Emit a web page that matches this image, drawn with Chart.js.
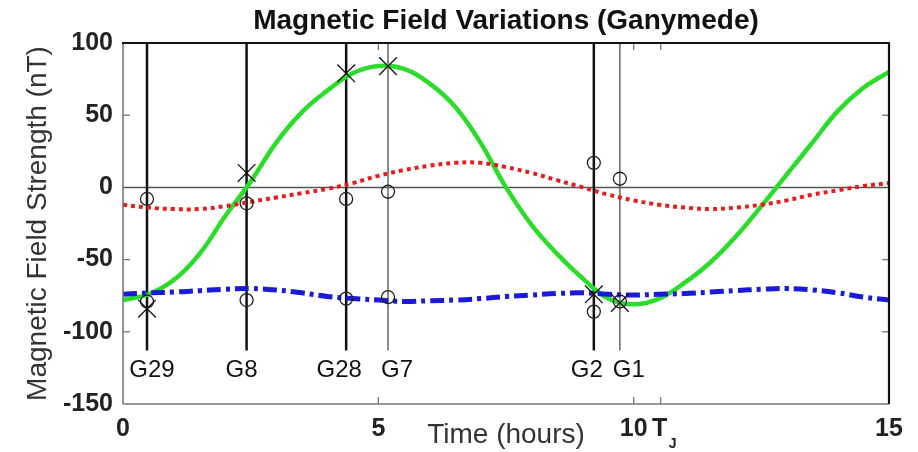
<!DOCTYPE html>
<html>
<head>
<meta charset="utf-8">
<script src="https://cdn.jsdelivr.net/npm/chart.js@4.4.1/dist/chart.umd.min.js"></script>
<style>
html,body{margin:0;padding:0;background:#fff;}
#wrap{width:918px;height:452px;}
</style>
</head>
<body>
<div id="wrap"><canvas id="c" width="918" height="452"></canvas></div>
<script>
// ---------- data ----------
const timeHours = [0,0.5,1,1.5,2,2.5,3,3.5,4,4.5,5,5.5,6,6.5,7,7.5,8,8.5,9,9.5,10,10.5,11,11.5,12,12.5,13,13.5,14,14.5,15];
const fieldGreen = [-78,-74,-64,-46,-20,4,31,52,67,79,84,82,72,56,31,0,-26,-46,-63,-77,-81,-77,-66,-52,-34,-13,9,31,53,69,80];
const fieldRed   = [-12,-14,-15,-15,-13,-10,-7,-4,-1,3,8,12,15,17,17,14,10,5,0,-5,-9,-12,-14,-15,-14,-12,-9,-5,-2,1,3];
const fieldBlue  = [-74,-73,-72.5,-71.5,-70.5,-70,-71,-73,-75.5,-77,-78,-79,-78.5,-78,-77,-75.5,-74.5,-73.5,-73,-74,-74.5,-74,-73.5,-72.5,-71.5,-70.5,-70,-71,-73,-76,-78];

const flybyNames  = ['G29','G8','G28','G7','G2','G1'];
const flybyTimes  = [0.47, 2.42, 4.37, 5.19, 9.22, 9.73];
const flybyCross  = [-84, 10, 79, 84, -74, -80];
const flybyCircleUpper = [-8, -11, -8, -3, 17, 6];
const flybyCircleLower = [-79, -78, -77, -76, -86, -79];

const xTickValues = [0,5,10,15];
const yTickValues = [100,50,0,-50,-100,-150];
const jupiterPeriod = 10.53;
const flybyLineBottom = -113;
const flybyLabelLevel = -127;

// ---------- styling / drawing ----------
Chart.defaults.font.family = '"Liberation Sans", Arial, Helvetica, sans-serif';
const thinLines = new Set(['G7','G1']);
const labelShift = {G29:5, G8:-5, G28:-7, G7:9, G2:-7, G1:9};

function seg(ctx,x1,y1,x2,y2){ctx.beginPath();ctx.moveTo(x1,y1);ctx.lineTo(x2,y2);ctx.stroke();}

const decor = {
  id:'decor',
  beforeDatasetsDraw(chart){
    const {ctx, chartArea:a, scales:{x,y}} = chart;
    ctx.save();
    ctx.strokeStyle='#555'; ctx.lineWidth=1.5;
    const y0=y.getPixelForValue(0);
    seg(ctx,a.left,y0,a.right,y0);
    const yb=y.getPixelForValue(flybyLineBottom);
    flybyTimes.forEach((t,i)=>{
      const px=x.getPixelForValue(t);
      const thin=thinLines.has(flybyNames[i]);
      ctx.strokeStyle= thin ? '#666' : '#111';
      ctx.lineWidth= thin ? 1.5 : 2.5;
      seg(ctx,px,a.top,px,yb);
    });
    ctx.restore();
  },
  afterDraw(chart){
    const {ctx, chartArea:a, scales:{x,y}} = chart;
    ctx.save();
    ctx.strokeStyle='#777'; ctx.lineWidth=1.3;
    const tl=7;
    [5,10,jupiterPeriod].forEach(v=>{
      const px=x.getPixelForValue(v);
      seg(ctx,px,a.bottom,px,a.bottom-tl);
      seg(ctx,px,a.top,px,a.top+tl);
    });
    [50,-50,-100].forEach(v=>{
      const py=y.getPixelForValue(v);
      seg(ctx,a.left,py,a.left+tl,py);
      seg(ctx,a.right,py,a.right-tl,py);
    });
    ctx.strokeStyle='#777'; ctx.lineWidth=1.6;
    seg(ctx,a.left,a.top,a.left,a.bottom);
    seg(ctx,a.left,a.bottom,a.right,a.bottom);
    ctx.strokeStyle='#111'; ctx.lineWidth=2.2;
    seg(ctx,a.left-1,a.top,a.right+1,a.top);
    seg(ctx,a.right,a.top,a.right,a.bottom);
    ctx.fillStyle='#111';
    ctx.font='24px "Liberation Sans", Arial, sans-serif';
    ctx.textAlign='center'; ctx.textBaseline='middle';
    const ly=y.getPixelForValue(flybyLabelLevel);
    flybyNames.forEach((n,i)=>{
      ctx.fillText(n, x.getPixelForValue(flybyTimes[i])+(labelShift[n]||0), ly);
    });
    const pj=x.getPixelForValue(jupiterPeriod);
    ctx.fillStyle='#222';
    ctx.font='bold 25px "Liberation Sans", Arial, sans-serif';
    ctx.textAlign='center'; ctx.textBaseline='middle';
    ctx.fillText('T', pj-1, 429.5);
    ctx.font='bold 14px "Liberation Sans", Arial, sans-serif';
    ctx.textAlign='left'; ctx.textBaseline='alphabetic';
    ctx.fillText('J', pj+8, 448);
    ctx.restore();
  }
};

const pts = arr => timeHours.map((t,i)=>({x:t,y:arr[i]}));
const fpts = arr => flybyTimes.map((t,i)=>({x:t,y:arr[i]}));

new Chart(document.getElementById('c'), {
  type:'line',
  data:{
    datasets:[
      {label:'Bx', data:fpts(flybyCross), showLine:false, pointStyle:'crossRot', pointRadius:12.5, pointBorderWidth:1.3, pointBorderColor:'#111', pointBackgroundColor:'#111', order:0},
      {label:'By obs', data:fpts(flybyCircleUpper), showLine:false, pointStyle:'circle', pointRadius:6.5, pointBorderWidth:1.3, pointBorderColor:'#222', pointBackgroundColor:'rgba(0,0,0,0)', order:1},
      {label:'Bz obs', data:fpts(flybyCircleLower), showLine:false, pointStyle:'circle', pointRadius:6.5, pointBorderWidth:1.3, pointBorderColor:'#222', pointBackgroundColor:'rgba(0,0,0,0)', order:1},
      {label:'Bz', data:pts(fieldBlue), borderColor:'#1a1ad8', borderWidth:5, borderDash:[14,5,4,5], pointRadius:0, tension:0.4, order:2},
      {label:'By', data:pts(fieldRed), borderColor:'#e0201e', borderWidth:4, borderDash:[4,4], pointRadius:0, tension:0.4, order:3},
      {label:'Bx model', data:pts(fieldGreen), borderColor:'#2bdc2b', borderWidth:4.5, pointRadius:0, tension:0.4, order:4}
    ]
  },
  options:{
    responsive:false, animation:false, devicePixelRatio:1,
    layout:{padding:{left:0,right:29,top:0,bottom:0}},
    plugins:{
      legend:{display:false}, tooltip:{enabled:false},
      title:{display:true, fullSize:false, text:'Magnetic Field Variations (Ganymede)', color:'#111',
        font:{size:28, weight:'bold', lineHeight:1.2}, padding:{top:4.8,bottom:4.6}}
    },
    scales:{
      x:{type:'linear', min:0, max:15,
        afterBuildTicks:s=>{s.ticks=xTickValues.map(v=>({value:v}));},
        afterFit:s=>{s.height=48;},
        grid:{display:false, drawTicks:false}, border:{display:false},
        ticks:{color:'#222', font:{size:25, weight:'bold'}, padding:10.5, maxRotation:0, autoSkip:false, callback:v=>String(v)},
        title:{display:true, text:'Time (hours)', color:'#333', font:{size:28, lineHeight:1.2}, padding:0}
      },
      y:{type:'linear', min:-150, max:100,
        afterBuildTicks:s=>{s.ticks=yTickValues.map(v=>({value:v}));},
        afterFit:s=>{s.width=123;},
        grid:{display:false, drawTicks:false}, border:{display:false},
        ticks:{color:'#222', font:{size:25, weight:'bold'}, padding:10, callback:v=>String(v)},
        title:{display:true, text:'Magnetic Field Strength (nT)', color:'#333', font:{size:28, lineHeight:1.2}, padding:{top:21,bottom:0}}
      }
    }
  },
  plugins:[decor]
});
</script>
</body>
</html>
